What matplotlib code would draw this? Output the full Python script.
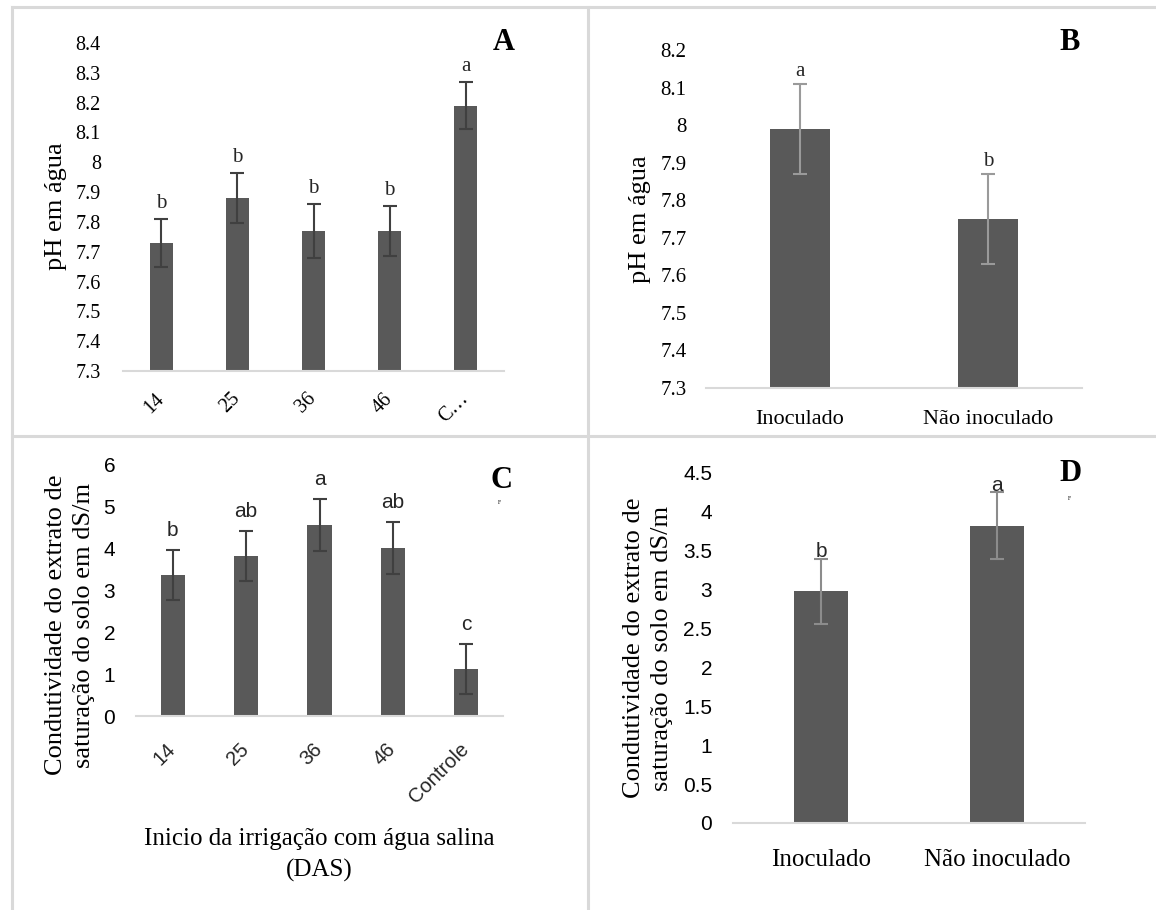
import matplotlib
matplotlib.use("Agg")
import matplotlib.pyplot as plt
from matplotlib.lines import Line2D

W, H = 1156, 910

# Dados
dias = ["14", "25", "36", "46", "Controle"]
dias_a = ["14", "25", "36", "46", "C\u2026"]
ph_dias = [7.73, 7.88, 7.77, 7.77, 8.19]
ph_dias_err = [0.08, 0.085, 0.09, 0.085, 0.08]
ph_dias_letras = ["b", "b", "b", "b", "a"]

inoc = ["Inoculado", "Não inoculado"]
ph_inoc = [7.99, 7.75]
ph_inoc_err = [0.12, 0.12]
ph_inoc_letras = ["a", "b"]

ce_dias = [3.37, 3.83, 4.57, 4.02, 1.12]
ce_dias_err = [0.6, 0.6, 0.62, 0.62, 0.6]
ce_dias_letras = ["b", "ab", "a", "ab", "c"]

ce_inoc = [2.98, 3.82]
ce_inoc_err = [0.42, 0.43]
ce_inoc_letras = ["b", "a"]

SERIF = "Liberation Serif"
SANS = "Liberation Sans"
BAR = "#595959"
GRID = "#d9d9d9"


def box(l, r, t, b):
    return [l / W, 1 - b / H, (r - l) / W, (b - t) / H]


def draw_panel(ax, vals, errs, letras, ylim, yticks, width,
               ecolor, capcolor, lfont, tfont, tsize, ypad, letter_off):
    x = list(range(len(vals)))
    ax.bar(x, vals, width=width, color=BAR, zorder=2)
    _, caps, bars = ax.errorbar(x, vals, yerr=errs, fmt="none", ecolor=ecolor,
                                elinewidth=1.5, capsize=5, capthick=1.5, zorder=3)
    for c in caps:
        c.set_color(capcolor)
    for xi, v, e, t in zip(x, vals, errs, letras):
        ax.annotate(t, (xi, v + e), xytext=(0, letter_off), textcoords="offset points",
                    ha="center", va="bottom", fontsize=15, family=lfont, color="#262626")
    ax.set_xlim(-0.5, len(vals) - 0.5)
    ax.set_ylim(*ylim)
    ax.set_yticks(yticks)
    ax.set_yticklabels([f"{t:g}" for t in yticks], family=tfont, fontsize=tsize)
    ax.set_xticks(x)
    for s in ["top", "right", "left"]:
        ax.spines[s].set_visible(False)
    ax.spines["bottom"].set_color(GRID)
    ax.spines["bottom"].set_linewidth(1.5)
    ax.tick_params(axis="both", length=0)
    ax.tick_params(axis="y", pad=ypad)
    ax.patch.set_alpha(0)


fig = plt.figure(figsize=(W / 100, H / 100), dpi=100)

# bordas dos paineis
for xs, ys in [((12, W), (7, 7)), ((12, 12), (7, H)), ((12, W), (436, 436)),
               ((588, 588), (7, H))]:
    fig.add_artist(Line2D([v / W for v in xs], [1 - v / H for v in ys],
                          color=GRID, lw=2.2))

# A
axA = fig.add_axes(box(123, 504, 43, 371))
draw_panel(axA, ph_dias, ph_dias_err, ph_dias_letras, (7.3, 8.4),
           [round(7.3 + 0.1 * i, 1) for i in range(12)], 0.30, "#404040", "#404040",
           SERIF, SERIF, 14.5, 16, 4)
axA.set_xticklabels(dias_a, family=SERIF, fontsize=14.5, rotation=45,
                    ha="right", va="center", rotation_mode="anchor")
axA.tick_params(axis="x", pad=18)

# B
axB = fig.add_axes(box(706, 1082, 50, 388))
draw_panel(axB, ph_inoc, ph_inoc_err, ph_inoc_letras, (7.3, 8.2),
           [round(7.3 + 0.1 * i, 1) for i in range(10)], 0.32, "#9a9a9a", "#5a5a5a",
           SERIF, SERIF, 15, 14, 2)
axB.set_xticklabels(inoc, family=SERIF, fontsize=16)
axB.tick_params(axis="x", pad=16)

# C
axC = fig.add_axes(box(136, 503, 465, 716))
draw_panel(axC, ce_dias, ce_dias_err, ce_dias_letras, (0, 6),
           list(range(7)), 0.33, "#404040", "#404040",
           SANS, SANS, 15, 15, 7)
axC.set_xticklabels(dias, family=SANS, fontsize=14.5, rotation=45,
                    ha="right", va="center", rotation_mode="anchor", color="#262626")
axC.tick_params(axis="x", pad=22)

# D
axD = fig.add_axes(box(733, 1085, 473, 823))
draw_panel(axD, ce_inoc, ce_inoc_err, ce_inoc_letras, (0, 4.5),
           [0.5 * i for i in range(10)], 0.31, "#8c8c8c", "#404040",
           SANS, SANS, 15, 15, -2)
axD.set_xticklabels(inoc, family=SERIF, fontsize=18)
axD.tick_params(axis="x", pad=19)


def ftext(x, y, s, **kw):
    fig.text(x / W, 1 - y / H, s, **kw)


ylab = "Condutividade do extrato de\nsaturação do solo em dS/m"
ftext(56, 206, "pH em água", rotation=90, ha="center", va="center",
      family=SERIF, fontsize=19)
ftext(640, 219, "pH em água", rotation=90, ha="center", va="center",
      family=SERIF, fontsize=19)
ftext(70, 625, ylab, rotation=90, ha="center", va="center", family=SERIF,
      fontsize=19, linespacing=1.3)
ftext(648, 648, ylab, rotation=90, ha="center", va="center", family=SERIF,
      fontsize=19, linespacing=1.3)
ftext(319, 855, "Inicio da irrigação com água salina\n(DAS)", ha="center",
      va="center", family=SERIF, fontsize=18, linespacing=1.45)

for x, y, s in [(504, 43, "A"), (1070, 43, "B"), (502, 480, "C"), (1071, 473, "D")]:
    ftext(x, y, s, ha="center", va="center", family=SERIF, fontsize=22,
          fontweight="bold")
for x, y in [(499, 502), (1069, 498)]:
    ftext(x, y, "F", ha="center", va="center", family=SERIF, fontsize=4)

fig.savefig("out.png", dpi=100)
